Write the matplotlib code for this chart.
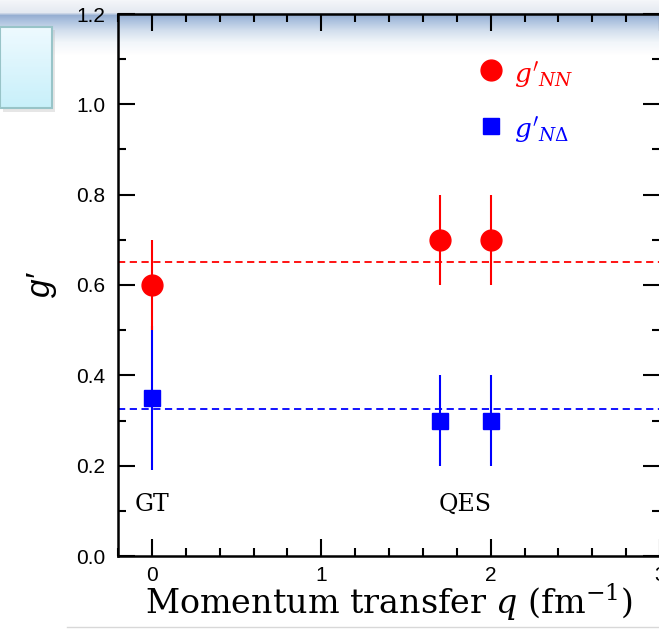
import numpy as np
import matplotlib
matplotlib.use("Agg")
import matplotlib.pyplot as plt
from matplotlib.patches import Rectangle

# ---- data ----
q_nn = [0.0, 1.7, 2.0]
g_nn = [0.60, 0.70, 0.70]
g_nn_err = [0.10, 0.10, 0.10]
q_nd = [0.0, 1.7, 2.0]
g_nd = [0.35, 0.30, 0.30]
g_nd_err = [0.16, 0.10, 0.10]
g_nn_avg = 0.652
g_nd_avg = 0.325
region_labels = ["GT", "QES"]
region_x = [0.0, 1.85]
region_y = [0.115, 0.115]
x_ticks = [0, 1, 2, 3]
x_ticklabels = ['0', '1', '2', '3']
y_ticks = [0.0, 0.2, 0.4, 0.6, 0.8, 1.0, 1.2]
y_ticklabels = ['0.0', '0.2', '0.4', '0.6', '0.8', '1.0', '1.2']

plt.rcParams['mathtext.fontset'] = 'dejavuserif'

W, H = 659, 629
fig = plt.figure(figsize=(W / 100, H / 100), dpi=100)
fig.patch.set_facecolor('white')

# background decoration axes (slide artifacts)
bg = fig.add_axes([0, 0, 1, 1], zorder=0)
bg.axis('off')
ys = np.arange(0, 60)
kp_y = [0, 12, 15, 20, 30, 42, 55]
kp_c = np.array([[244, 246, 249], [228, 233, 241], [150, 175, 210], [170, 192, 222],
                 [210, 222, 237], [242, 246, 250], [255, 255, 255]]) / 255.0
band = np.stack([np.interp(ys, kp_y, kp_c[:, i]) for i in range(3)], axis=-1)
band = np.repeat(band[:, None, :], 2, axis=1)
bg.imshow(band, extent=(0, W, 60, 0), aspect='auto', zorder=0)

bg.add_patch(Rectangle((3, 30), 52, 82, facecolor='#b8b8b8', alpha=0.35, edgecolor='none', zorder=1))
grad = np.linspace(0, 1, 50)[:, None]
c0 = np.array([238, 250, 255]) / 255.0
c1 = np.array([200, 240, 250]) / 255.0
box = c0[None, None, :] * (1 - grad[..., None]) + c1[None, None, :] * grad[..., None]
box = np.repeat(box, 2, axis=1)
bg.imshow(box, extent=(0, 52, 108, 27), aspect='auto', zorder=2)
bg.add_patch(Rectangle((0, 27), 52, 81, facecolor='none', edgecolor='#98c4c8', lw=1.5, zorder=3))
bg.plot([67, W], [627, 627], color='#d8d8d8', lw=1, zorder=3)
bg.set_xlim(0, W)
bg.set_ylim(H, 0)

# main axes
ax = fig.add_axes([118 / W, (H - 556) / H, (660 - 118) / W, (556 - 14) / H], zorder=1)
ax.patch.set_alpha(0)

ax.axhline(g_nn_avg, color='red', ls=(0, (4, 2.5)), lw=1.3, zorder=2)
ax.axhline(g_nd_avg, color='blue', ls=(0, (4, 2.5)), lw=1.3, zorder=2)

ax.errorbar(q_nd, g_nd, yerr=g_nd_err, fmt='s', color='blue', ms=12, elinewidth=1.5,
            capsize=0, zorder=3)
ax.errorbar(q_nn, g_nn, yerr=g_nn_err, fmt='o', color='red', ms=15, elinewidth=1.5,
            capsize=0, zorder=4)

# legend drawn as markers + text
ax.plot([2.0], [1.075], 'o', color='red', ms=15, zorder=4)
ax.text(2.14, 1.062, r"$g'_{NN}$", color='red', fontsize=19, va='center', ha='left')
ax.plot([2.0], [0.953], 's', color='blue', ms=12, zorder=4)
ax.text(2.14, 0.942, r"$g'_{N\Delta}$", color='blue', fontsize=19, va='center', ha='left')

for lab, x, y in zip(region_labels, region_x, region_y):
    ax.text(x, y, lab, fontsize=17, family='DejaVu Serif', ha='center', va='center')

ax.set_xlim(-0.2, 3.0)
ax.set_ylim(0.0, 1.2)
ax.set_xticks(x_ticks)
ax.set_xticklabels(x_ticklabels, fontsize=15, family='Liberation Sans')
ax.set_xticks(np.arange(-0.2, 3.01, 0.2), minor=True)
ax.set_yticks(y_ticks)
ax.set_yticklabels(y_ticklabels, fontsize=15, family='Liberation Sans')
ax.set_yticks(np.arange(0.1, 1.2, 0.2), minor=True)
ax.tick_params(which='both', direction='in', top=True, right=True, width=1.5)
ax.tick_params(which='major', length=12)
ax.tick_params(which='minor', length=6)
ax.tick_params(axis='x', pad=7)
ax.tick_params(axis='y', pad=9)
for s in ax.spines.values():
    s.set_linewidth(1.8)

ax.set_xlabel(r"Momentum transfer $q$ (fm$^{-1}$)", fontsize=24, family='DejaVu Serif',
              labelpad=-2)
ax.set_ylabel("g\u2032", fontsize=24, family='Liberation Sans', style='italic', labelpad=14)

fig.savefig('out.png', dpi=100)
